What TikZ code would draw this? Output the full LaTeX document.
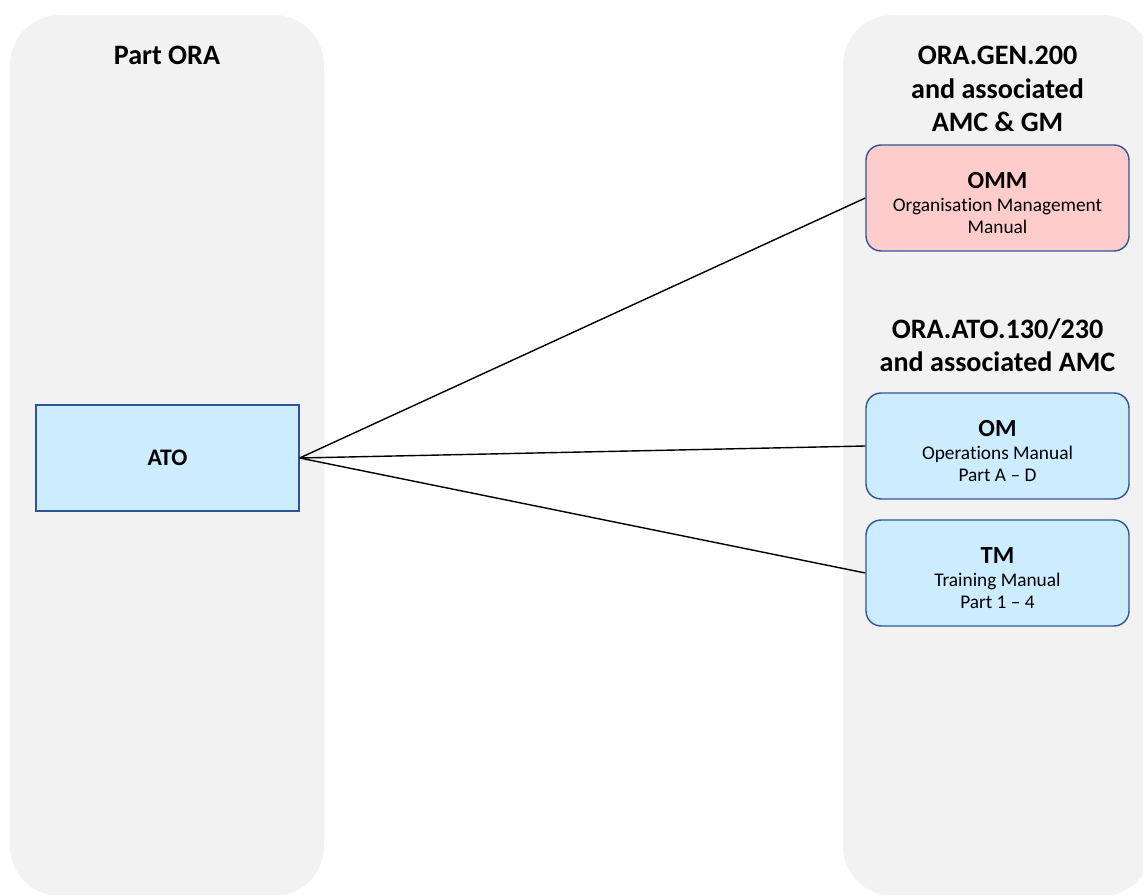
\documentclass[tikz,border=0pt]{standalone}
\usepackage{fontspec}
\setmainfont{Carlito}[Ligatures={TeX,NoCommon}]
\usetikzlibrary{arrows}

\definecolor{panelgray}{HTML}{F2F2F2}
\definecolor{boxblue}{HTML}{CCECFF}
\definecolor{boxred}{HTML}{FFCCCC}
\definecolor{edgeblue}{HTML}{2F5597}

\newcommand{\doctitle}[1]{{\fontsize{14}{13}\selectfont\bfseries\rule{0pt}{15pt}#1}}

\begin{document}
\begin{tikzpicture}[x=0.02cm,y=-0.02cm,
  panel/.style={fill=panelgray,rounded corners=1cm},
  head node/.style={align=center,font=\fontsize{16}{19}\selectfont\bfseries},
  doc node/.style={draw=edgeblue,line width=0.8pt,fill=boxblue,rounded corners=0.3cm,
    minimum width=5.26cm,minimum height=2.12cm,align=center,inner sep=0pt,
    font=\fontsize{11}{13}\selectfont},
  ato node/.style={draw=edgeblue,line width=0.8pt,fill=boxblue,
    minimum width=5.26cm,minimum height=2.12cm,font=\fontsize{13.5}{16}\selectfont\bfseries}]

  \useasboundingbox (0,0) rectangle (1143,895);
  \clip (0,0) rectangle (1143,895);

  \fill[panel] (10,15) rectangle (324,896);
  \fill[panel] (843,15) rectangle (1152,896);

  \node[head node] (ora) at (167,55) {Part ORA};
  \node[ato node] (ato) at (167.5,458) {ATO};

  \node[head node] (gen) at (997.5,89) {ORA.GEN.200\\and associated\\AMC \& GM};
  \node[doc node,fill=boxred] (omm) at (997.5,198)
    {\doctitle{OMM}\\Organisation Management\\Manual};

  \node[head node] (req) at (997.5,345) {ORA.ATO.130/230\\and associated AMC};
  \node[doc node] (om) at (997.5,446)
    {\doctitle{OM}\\Operations Manual\\Part A -- D};
  \node[doc node] (tm) at (997.5,573)
    {\doctitle{TM}\\Training Manual\\Part 1 -- 4};

  \path[draw,black,line width=0.8pt]
    (ato.east) edge (omm.west)
    (ato.east) edge (om.west)
    (ato.east) edge (tm.west);

\end{tikzpicture}
\end{document}
